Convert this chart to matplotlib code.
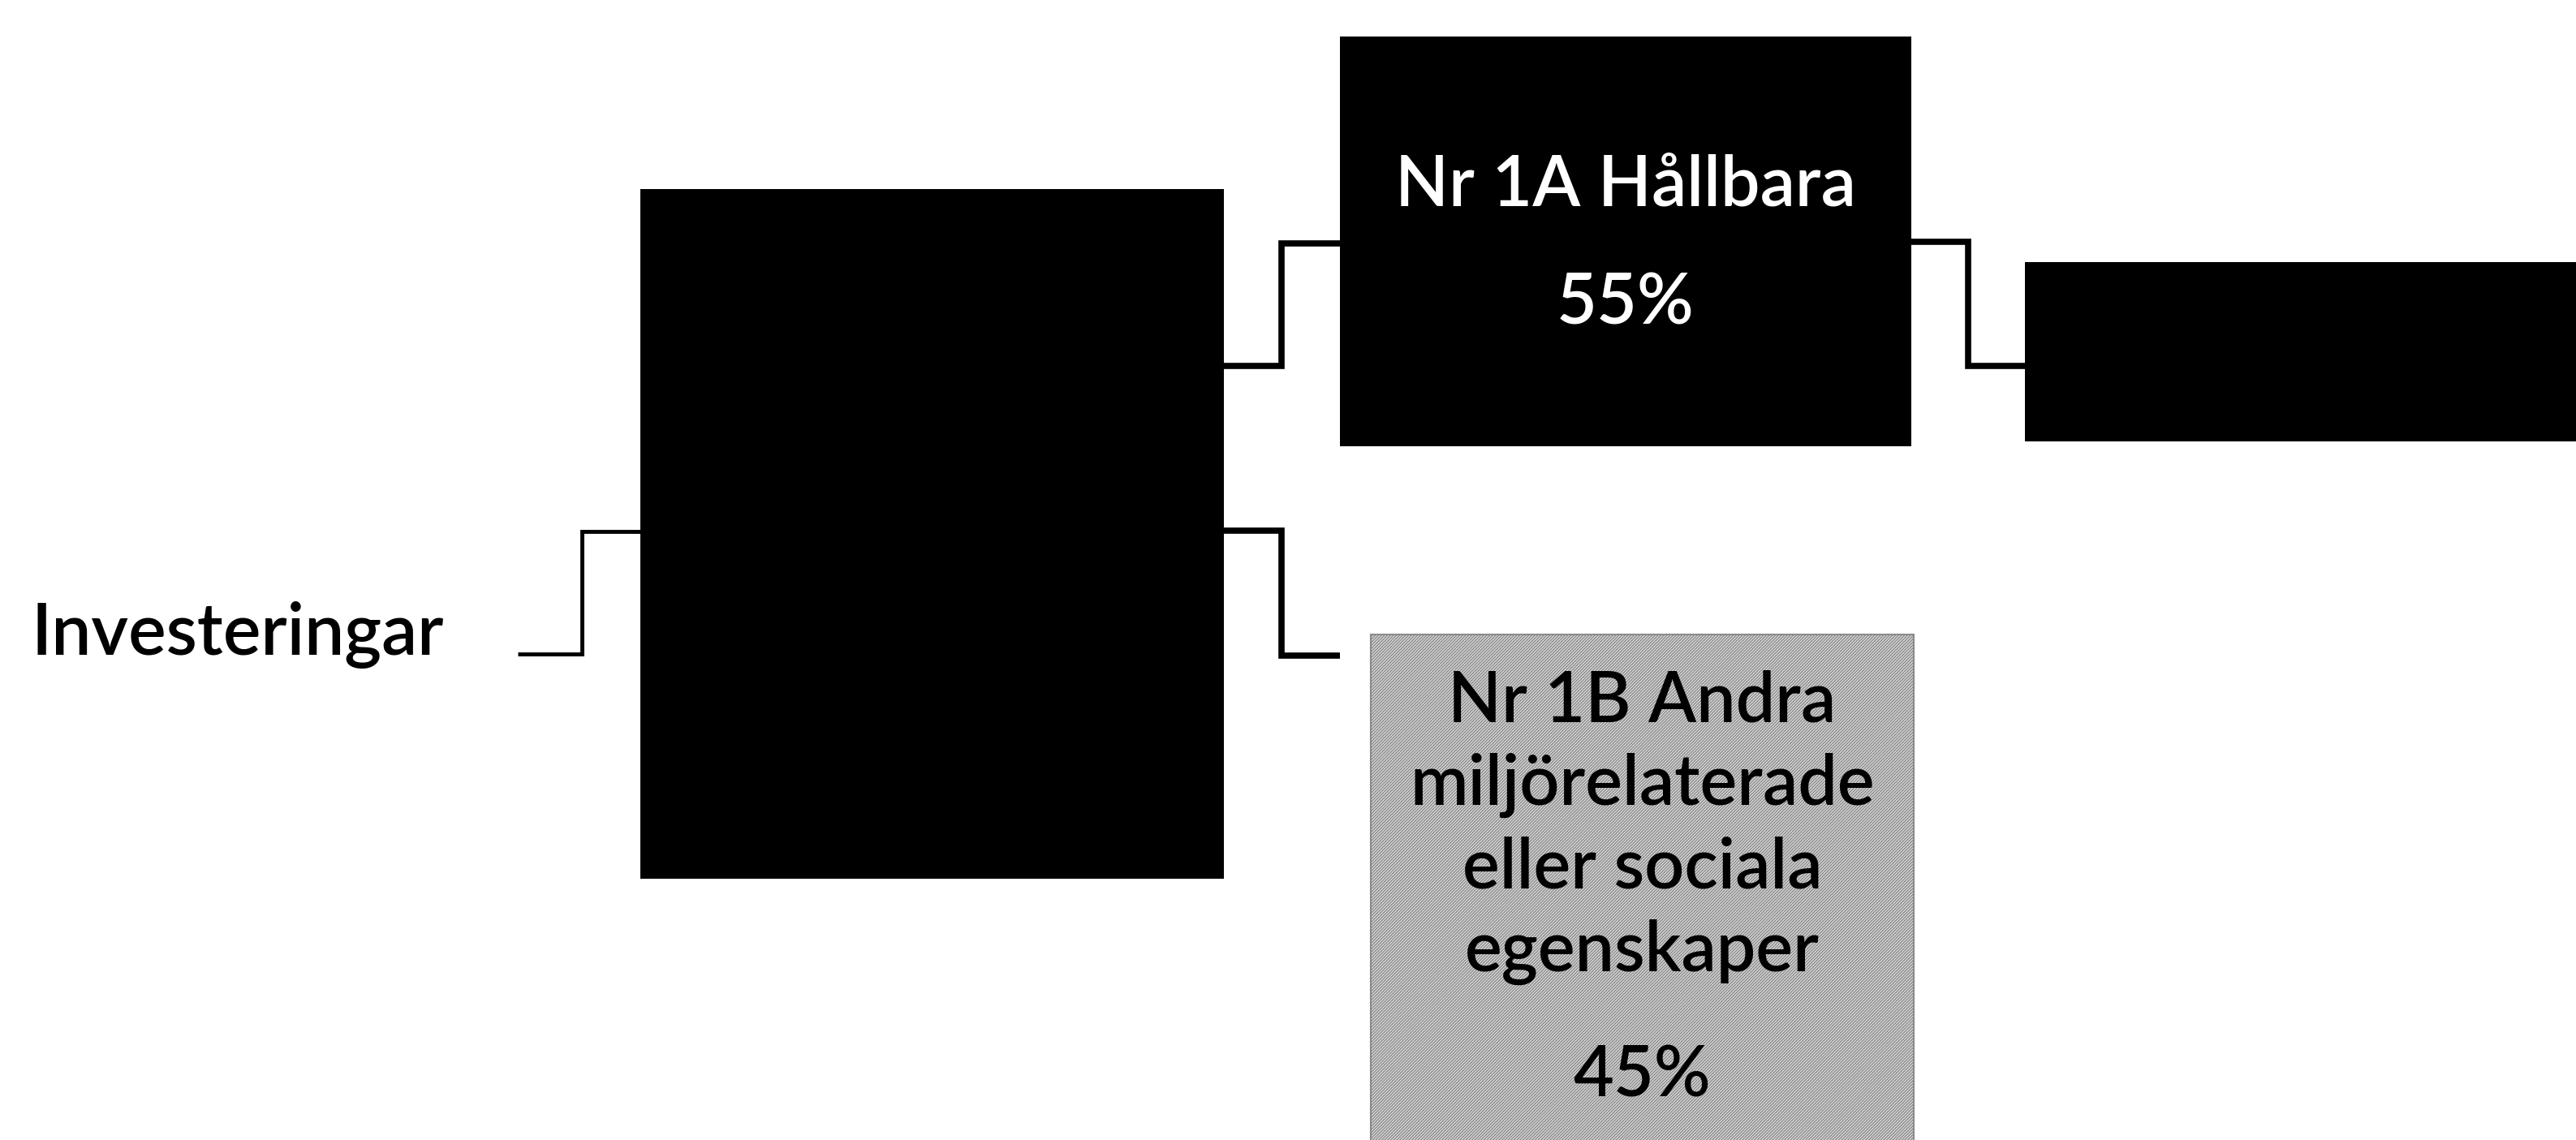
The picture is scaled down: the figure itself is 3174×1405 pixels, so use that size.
import matplotlib

matplotlib.use("Agg")
import matplotlib.pyplot as plt  # noqa: E402
from matplotlib.patches import Rectangle  # noqa: E402

# tree content
root_label = "Investeringar"
branch_labels = ["Nr 1A Hållbara", "Nr 1B Andra\nmiljörelaterade\neller sociala\negenskaper"]
branch_shares = [55, 45]

W, H, DPI = 3174, 1405, 100
plt.rcParams["font.family"] = ["Lato", "DejaVu Sans"]
plt.rcParams["hatch.linewidth"] = 1.0

fig = plt.figure(figsize=(W / DPI, H / DPI), dpi=DPI)
ax = fig.add_axes([0, 0, 1, 1])
ax.set_xlim(0, W)
ax.set_ylim(H, 0)
ax.axis("off")

TXT = dict(ha="center", va="baseline", fontweight="semibold")


def box(x0, x1, y0, y1, **kw):
    ax.add_patch(Rectangle((x0, y0), x1 - x0, y1 - y0, **kw))


def elbow(xa, ya, xm, yb, xb, lw=5.5):
    ax.plot([xa, xm, xm, xb], [ya, ya, yb, yb], color="black", lw=lw,
            solid_joinstyle="miter", solid_capstyle="butt")


# root label + bracket into the (unlabelled) first box
ax.text(38, 807, root_label, fontsize=63, ha="left", va="baseline",
        fontweight="semibold", color="black")
elbow(638, 806, 717, 655, 789, lw=3.5)
box(789, 1508, 233, 1083, facecolor="black", edgecolor="none")

# branch connectors
elbow(1508, 451, 1579, 300, 1651)
elbow(1508, 654, 1579, 808, 1651)

# 1A box
box(1651, 2355, 45, 550, facecolor="black", edgecolor="none")
cx = (1651 + 2355) / 2
ax.text(cx, 253, branch_labels[0], fontsize=62, color="white", **TXT)
ax.text(cx, 400, f"{branch_shares[0]}%", fontsize=62, color="white", **TXT)

# 1B box, grey hatched, runs off the bottom
box(1689, 2358, 782, 1460, facecolor="#dedede", edgecolor="#8a8a8a",
    hatch="/" * 9, lw=1.5)
cx = (1689 + 2358) / 2
for i, line in enumerate(branch_labels[1].split("\n")):
    ax.text(cx, 889 + i * 102.7, line, fontsize=62, color="black", **TXT)
ax.text(cx, 1352, f"{branch_shares[1]}%", fontsize=62, color="black", **TXT)

# connector out of 1A to the next (cut-off) box
elbow(2355, 298, 2425, 451, 2495)
box(2495, W + 50, 323, 544, facecolor="black", edgecolor="none")

fig.savefig("out.png", dpi=DPI)
